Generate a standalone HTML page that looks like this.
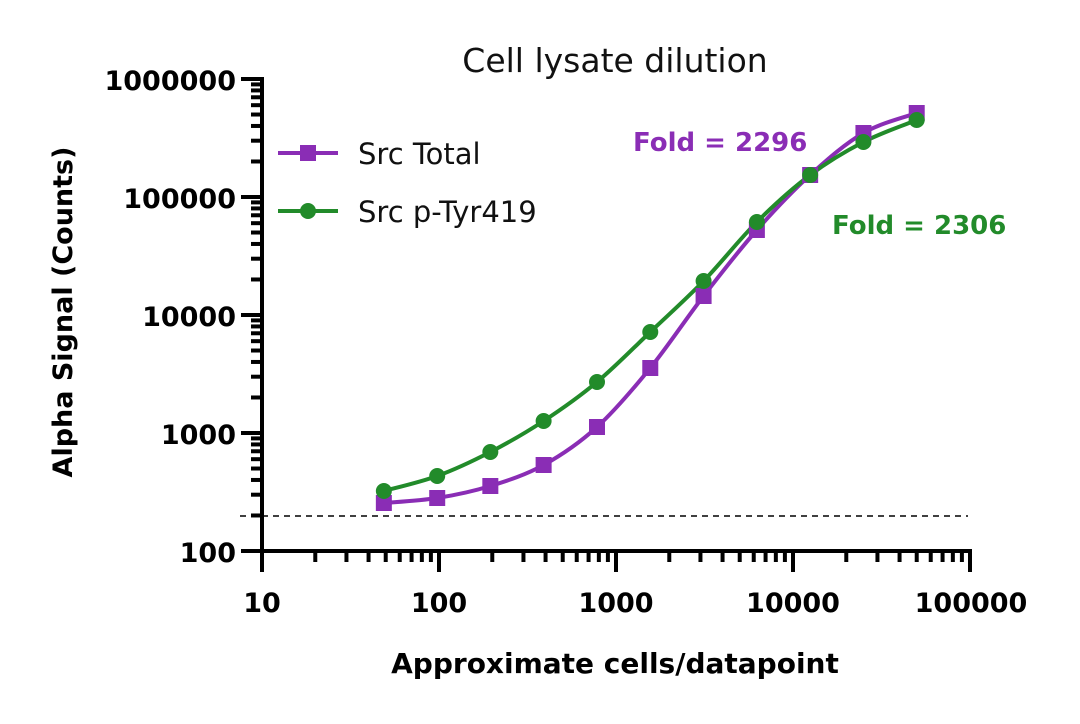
<!DOCTYPE html>
<html><head><meta charset="utf-8"><style>
html,body{margin:0;padding:0;background:#fff;}
svg text{font-family:"DejaVu Sans","Liberation Sans",sans-serif;}
</style></head><body>
<svg id="s" width="1080" height="719" xmlns="http://www.w3.org/2000/svg">
<text x="615" y="72" font-size="33" text-anchor="middle" fill="#111">Cell lysate dilution</text>
<g id="ax" stroke="#000" stroke-width="4" fill="none"></g>
<line x1="240" y1="516" x2="968" y2="516" stroke="#000" stroke-width="1.6" stroke-dasharray="6,5"/>
<g id="ser"></g>
<g font-size="27" font-weight="bold" text-anchor="end" fill="#000">
<text x="236" y="90">1000000</text>
<text x="236" y="208">100000</text>
<text x="236" y="326">10000</text>
<text x="236" y="444">1000</text>
<text x="236" y="562">100</text>
</g>
<g font-size="27" font-weight="bold" text-anchor="middle" fill="#000">
<text x="262" y="612">10</text>
<text x="439" y="612">100</text>
<text x="616" y="612">1000</text>
<text x="793" y="612">10000</text>
<text x="971" y="612">100000</text>
</g>
<text x="615" y="673" font-size="28" font-weight="bold" text-anchor="middle">Approximate cells/datapoint</text>
<text transform="translate(72,312) rotate(-90)" font-size="27" font-weight="bold" text-anchor="middle">Alpha Signal (Counts)</text>
<line x1="278" y1="153" x2="338" y2="153" stroke="#8a2db5" stroke-width="4"/>
<rect x="300" y="145" width="16" height="16" fill="#8a2db5"/>
<text x="358" y="164" font-size="29" fill="#111">Src Total</text>
<line x1="278" y1="211" x2="338" y2="211" stroke="#228b2a" stroke-width="4"/>
<circle cx="308" cy="211" r="8" fill="#228b2a"/>
<text x="358" y="222" font-size="29" fill="#111">Src p-Tyr419</text>
<text x="633" y="151" font-size="26" font-weight="bold" fill="#8a2db5">Fold = 2296</text>
<text x="832" y="234" font-size="26" font-weight="bold" fill="#228b2a">Fold = 2306</text>
</svg>
<script>
var ns="http://www.w3.org/2000/svg",ax=document.getElementById('ax'),ser=document.getElementById('ser');
function X(v){return 262+177*Math.log10(v/10);}
function Y(v){return 551-118*Math.log10(v/100);}
function ln(g,a,b,c,d,w,col){var l=document.createElementNS(ns,'line');l.setAttribute('x1',a);l.setAttribute('y1',b);l.setAttribute('x2',c);l.setAttribute('y2',d);if(w)l.setAttribute('stroke-width',w);if(col)l.setAttribute('stroke',col);g.appendChild(l);}
ln(ax,262,77,262,553);ln(ax,260,551,972,551);
for(var d=0;d<4;d++)for(var k=1;k<10;k++){var x=X(10*Math.pow(10,d)*k);ln(ax,x,551,x,k==1?572:562);}
ln(ax,X(100000),551,X(100000),572);
for(var d=0;d<4;d++)for(var k=1;k<10;k++){var y=Y(100*Math.pow(10,d)*k);ln(ax,262,y,k==1?241:251,y);}
ln(ax,262,Y(1e6),241,Y(1e6));
var xs=[48.8,97.7,195,390,781,1562,3125,6250,12500,25000,50000];
var P=[503,498,486,465,427,368,296,230,175,133,113];
var G=[491,476,452,421,382,332,281,222,175,142,120];
function curve(ys,col){var p=xs.map(function(v,i){return[X(v),ys[i]];});var d='M'+p[0];
for(var i=0;i<p.length-1;i++){var a=p[i-1]||p[i],b=p[i],c=p[i+1],e=p[i+2]||c;
d+=' C'+(b[0]+(c[0]-a[0])/6)+','+(b[1]+(c[1]-a[1])/6)+' '+(c[0]-(e[0]-b[0])/6)+','+(c[1]-(e[1]-b[1])/6)+' '+c[0]+','+c[1];}
var pa=document.createElementNS(ns,'path');pa.setAttribute('d',d);pa.setAttribute('stroke',col);pa.setAttribute('stroke-width',4);pa.setAttribute('fill','none');ser.appendChild(pa);return p;}
var pp=curve(P,'#8a2db5');var gp=curve(G,'#228b2a');
pp.forEach(function(q){var r=document.createElementNS(ns,'rect');r.setAttribute('x',q[0]-8);r.setAttribute('y',q[1]-8);r.setAttribute('width',16);r.setAttribute('height',16);r.setAttribute('fill','#8a2db5');ser.appendChild(r);});
gp.forEach(function(q){var c=document.createElementNS(ns,'circle');c.setAttribute('cx',q[0]);c.setAttribute('cy',q[1]);c.setAttribute('r',8);c.setAttribute('fill','#228b2a');ser.appendChild(c);});
</script>
</body></html>
